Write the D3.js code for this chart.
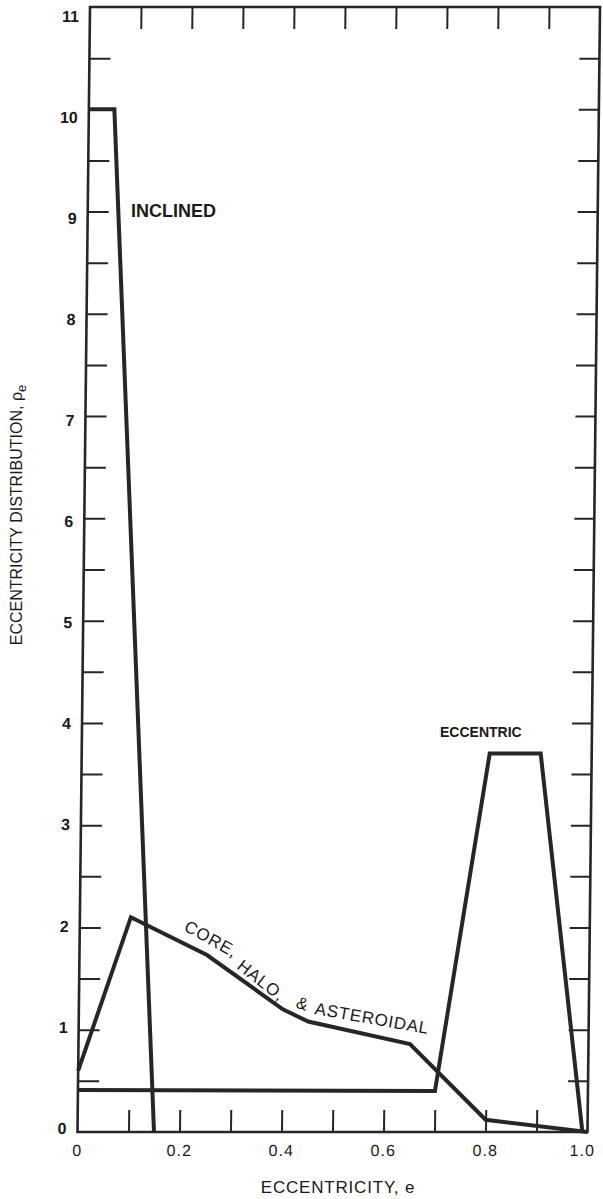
<!DOCTYPE html>
<html>
<head>
<meta charset="utf-8">
<script src="https://cdn.jsdelivr.net/npm/d3@7"></script>
<style>
  html, body { margin: 0; padding: 0; background: #fff; }
  svg { display: block; }
  text { font-family: "Liberation Sans", Arial, Helvetica, sans-serif; fill: #1a1a1a; }
</style>
</head>
<body>
<script>
// ---------------- data ----------------
const inclinedE = [0, 0.05, 0.15];
const inclinedV = [10, 10, 0];

const coreE = [0, 0.1, 0.25, 0.4, 0.45, 0.65, 0.8, 1.0];
const coreV = [0.6, 2.1, 1.73, 1.2, 1.08, 0.86, 0.12, 0];

const eccentricE = [0, 0.7, 0.8, 0.9, 0.99];
const eccentricV = [0.41, 0.4, 3.7, 3.7, 0];

const xLabelTicks = [0, 0.2, 0.4, 0.6, 0.8, 1.0];
const xLabelText = ["0", "0.2", "0.4", "0.6", "0.8", "1.0"];
const xMinorTicks = [0.1, 0.2, 0.3, 0.4, 0.5, 0.6, 0.7, 0.8, 0.9];
const yLabelTicks = [0, 1, 2, 3, 4, 5, 6, 7, 8, 9, 10, 11];
const yMinorTicks = [0.5, 1, 1.5, 2, 2.5, 3, 3.5, 4, 4.5, 5, 5.5, 6, 6.5, 7, 7.5, 8, 8.5, 9, 9.5, 10, 10.5];

// ---------------- layout ----------------
const W = 603, H = 1199;
const mLeft = 90, mTop = 7, pw = 510, ph = 1125;
const skewDeg = -0.637;   // scanned original leans slightly
const ink = "#262626";

const svg = d3.select("body").append("svg").attr("width", W).attr("height", H);
svg.append("rect").attr("width", W).attr("height", H).attr("fill", "#fff");

const g = svg.append("g").attr("transform", `translate(${mLeft},${mTop}) skewX(${skewDeg})`);

const x = d3.scaleLinear().domain([0, 1]).range([0, pw]);
const y = d3.scaleLinear().domain([0, 11]).range([ph, 0]);
const yLab = d3.scaleLinear().domain([0, 11]).range([ph - 4, 9]);

// ticks via d3 axes
function styleAxis(sel) {
  sel.select(".domain").remove();
  sel.selectAll(".tick line").attr("stroke", ink).attr("stroke-width", 2);
  sel.selectAll(".tick text").remove();
}
g.append("g").attr("transform", `translate(0,0)`)
  .call(d3.axisBottom(x).tickValues(xMinorTicks).tickSize(22)).call(styleAxis);
g.append("g").attr("transform", `translate(0,${ph})`)
  .call(d3.axisTop(x).tickValues(xMinorTicks).tickSize(22)).call(styleAxis);
g.append("g").attr("transform", `translate(0,0)`)
  .call(d3.axisRight(y).tickValues(yMinorTicks).tickSize(21)).call(styleAxis);
g.append("g").attr("transform", `translate(${pw},0)`)
  .call(d3.axisLeft(y).tickValues(yMinorTicks).tickSize(20)).call(styleAxis);

// frame
g.append("rect").attr("x", 0).attr("y", 0).attr("width", pw).attr("height", ph)
  .attr("fill", "none").attr("stroke", ink).attr("stroke-width", 2.6);

// tick labels
g.selectAll(".ylab").data(yLabelTicks).join("text")
  .attr("class", "ylab")
  .attr("x", -11).attr("y", d => yLab(d))
  .attr("dy", "0.36em")
  .attr("text-anchor", "end")
  .attr("font-size", 16).attr("font-weight", "bold")
  .text(d => String(d));

g.selectAll(".xlab").data(xLabelTicks).join("text")
  .attr("class", "xlab")
  .attr("x", (d, i) => x(d) - (d === 1 ? 5 : 0)).attr("y", ph + 18)
  .attr("dy", "0.36em")
  .attr("text-anchor", "middle")
  .attr("font-size", 16).attr("letter-spacing", 1)
  .text((d, i) => xLabelText[i]);

// curves
const line = d3.line().x(d => x(d[0])).y(d => y(d[1]));
const series = [
  d3.zip(inclinedE, inclinedV),
  d3.zip(coreE, coreV),
  d3.zip(eccentricE, eccentricV)
];
g.selectAll(".curve").data(series).join("path")
  .attr("class", "curve")
  .attr("d", line)
  .attr("fill", "none").attr("stroke", ink)
  .attr("stroke-width", 4).attr("stroke-linejoin", "miter");

// annotations (screen coordinates)
svg.append("text").attr("x", 131).attr("y", 217)
  .attr("font-size", 18).attr("font-weight", "bold").text("INCLINED");
svg.append("text").attr("x", 440).attr("y", 737)
  .attr("font-size", 14).attr("font-weight", "bold").text("ECCENTRIC");

const coreLabels = [
  { t: "CORE,", x: 183, y: 930, r: 29 },
  { t: "HALO,", x: 236, y: 968, r: 38 },
  { t: "&", x: 295, y: 1007, r: 20 },
  { t: "ASTEROIDAL", x: 314, y: 1014, r: 10 }
];
svg.selectAll(".clab").data(coreLabels).join("text")
  .attr("class", "clab")
  .attr("transform", d => `translate(${d.x},${d.y}) rotate(${d.r})`)
  .attr("font-size", 17).attr("letter-spacing", 0.8)
  .text(d => d.t);

// axis titles
svg.append("text").attr("x", 338).attr("y", 1193)
  .attr("text-anchor", "middle").attr("font-size", 17).attr("letter-spacing", 0.8)
  .text("ECCENTRICITY, e");

const yt = svg.append("text")
  .attr("transform", "translate(22,515) rotate(-90)")
  .attr("text-anchor", "middle").attr("font-size", 16);
yt.append("tspan").text("ECCENTRICITY DISTRIBUTION, ρ");
yt.append("tspan").attr("dy", 4).attr("font-size", 13).text("e");
</script>
</body>
</html>
